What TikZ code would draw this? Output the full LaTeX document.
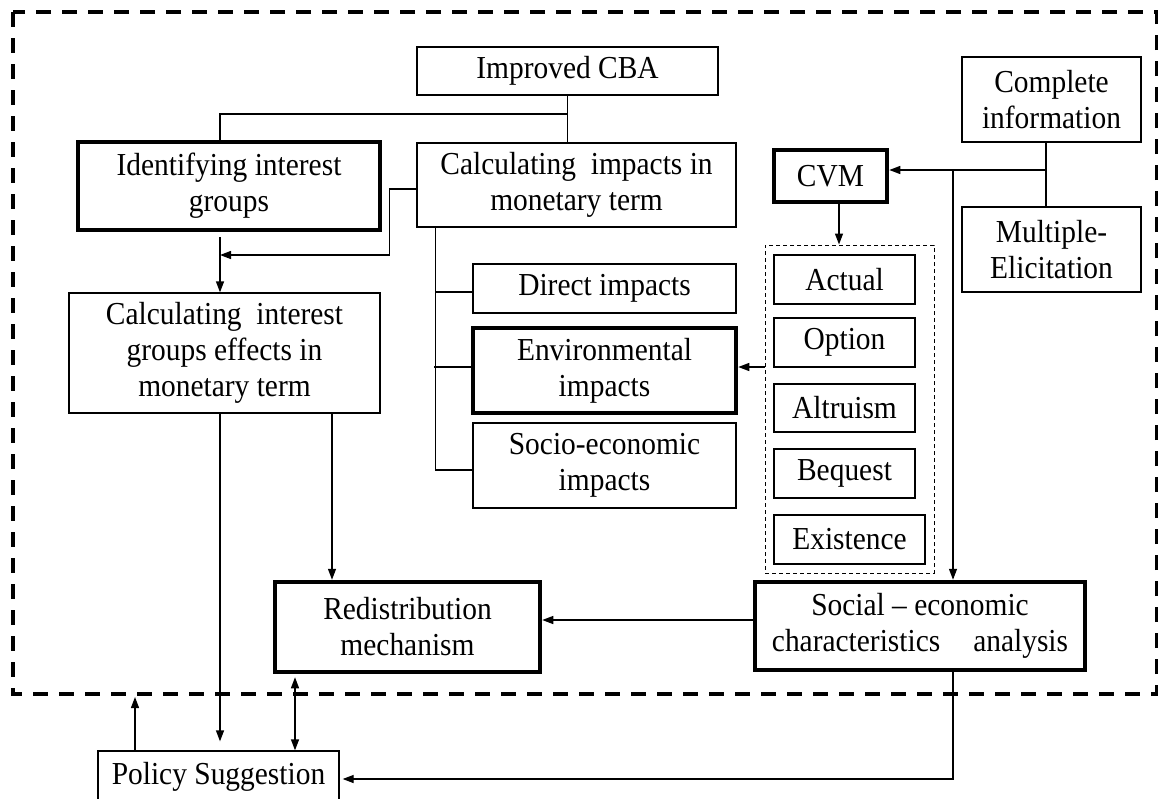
\documentclass[tikz,border=0pt]{standalone}
\usepackage{fontspec}
\setmainfont{Liberation Serif}[FakeStretch=0.92]
\usetikzlibrary{arrows.meta}
\begin{document}
\begin{tikzpicture}[x=1pt,y=-1pt,
  every node/.style={font=\fontsize{32}{36}\selectfont},
  box/.style={draw, line width=1.3pt, align=center, inner sep=0pt},
  heavy/.style={box, line width=4.5pt},
  grp/.style={draw, line width=1pt, dash pattern=on 4pt off 3pt},
  wire/.style={line width=1.3pt},
  tip/.tip={Triangle[length=11pt,width=8pt]},
  arr/.style={wire, -tip},
  darr/.style={wire, tip-tip},
]
\useasboundingbox (0,0) rectangle (1158,798);
\clip (0,0) rectangle (1158,798);
\fill[white] (0,0) rectangle (1158,798);

% outer frame
\draw[line width=3.5pt, dash pattern=on 15pt off 11pt] (13,12) rectangle (1157,694);

% boxes
\node[box, minimum width=301pt, minimum height=48pt] (cba) at (567.5,71) {Improved CBA};
\node[heavy, minimum width=302pt, minimum height=88pt] (ident) at (229,186) {Identifying interest\\groups};
\node[box, minimum width=319pt, minimum height=84pt] (calcimp) at (576.5,185) {Calculating\ \ impacts in\\monetary term};
\node[box, minimum width=179pt, minimum height=85pt] (compl) at (1051.5,99.5) {Complete\\information};
\node[box, minimum width=179pt, minimum height=85pt] (multi) at (1051.5,249.5) {Multiple-\\Elicitation};
\node[heavy, minimum width=113pt, minimum height=52pt] (cvm) at (830.5,176) {CVM};
\node[box, minimum width=263pt, minimum height=49pt] (direct) at (604.5,288.5) {Direct impacts};
\node[heavy, minimum width=263pt, minimum height=85pt] (env) at (604.5,370.5) {Environmental\\impacts};
\node[box, minimum width=263pt, minimum height=85pt] (socio) at (604.5,465.5) {Socio-economic\\impacts};
\node[box, minimum width=311pt, minimum height=120pt] (calcint) at (224.5,353) {Calculating\ \ interest\\groups effects in\\monetary term};

% value types inside the dashed group
\node[grp, minimum width=169pt, minimum height=328pt] (group) at (849.5,409) {};
\node[box, minimum width=141pt, minimum height=49pt] (actual) at (844.5,279.5) {Actual};
\node[box, minimum width=141pt, minimum height=49pt] (option) at (844.5,342.5) {Option};
\node[box, minimum width=141pt, minimum height=48pt] (altru) at (844.5,408) {Altruism};
\node[box, minimum width=141pt, minimum height=49pt] (bequest) at (844.5,473.5) {Bequest};
\node[box, minimum width=151pt, minimum height=49pt] (exist) at (849.5,539.5) {Existence};

\node[heavy, minimum width=330pt, minimum height=88pt] (social) at (920,626) {Social -- economic\\characteristics\hspace{0.8em} analysis};
\node[heavy, minimum width=265pt, minimum height=90pt] (redis) at (407.5,627) {Redistribution\\mechanism};
\node[box, minimum width=241pt, minimum height=52pt] (policy) at (218.5,777) {Policy Suggestion};

% junction points
\coordinate (jcba) at (567.5,114);
\coordinate (jleft) at (220,255);
\coordinate (jci) at (1046,170);
\coordinate (jv) at (953,170);
\coordinate (jenv) at ([yshift=3.5pt]env.east);
\coordinate (up) at (135,697);

% Improved CBA tree
\draw[wire] (cba.south) -- (cba.south |- calcimp.north);
\draw[wire] (jcba) -| ([xshift=-9pt]ident.north);
\draw[arr] ([xshift=-9pt,yshift=-5pt]ident.south) -- ([xshift=-4.5pt]calcint.north);
\draw[arr] ([yshift=-4pt]calcimp.west) -- ++(-27,0) |- (jleft);

% impact categories
\draw[wire] ([xshift=19pt]calcimp.south west) |- ([yshift=-4.5pt]socio.west);
\draw[wire] ([yshift=-3.5pt]direct.west) -- ++(-37,0);
\draw[wire] ([yshift=3.5pt]env.west) -- ++(-37,0);

% CVM inputs and outputs
\draw[wire] (compl.south -| jci) -- (multi.north -| jci);
\draw[arr] (jci) -- (jci -| cvm.east);
\draw[arr] (jv) -- (jv |- social.north);
\draw[arr] ([xshift=8.5pt]cvm.south) -- ([xshift=8.5pt]cvm.south |- group.north);
\draw[arr] (group.west |- jenv) -- (jenv);

% lower flows
\draw[arr] ([yshift=6pt]social.west) -- ([yshift=6pt]social.west -| redis.east);
\draw[arr, shorten >=9pt] ([xshift=-4.5pt]calcint.south) -- ([xshift=-4.5pt]calcint.south |- policy.north);
\draw[arr] ([xshift=107.5pt]calcint.south) -- ([xshift=107.5pt]calcint.south |- redis.north);
\draw[darr, shorten >=3pt] ([xshift=76.5pt]policy.north) -- ([xshift=76.5pt]policy.north |- redis.south);
\draw[arr] (policy.north -| up) -- (up);
\draw[arr, shorten >=3pt] (social.south -| jv) |- ([yshift=-2pt]policy.east);
\end{tikzpicture}
\end{document}
